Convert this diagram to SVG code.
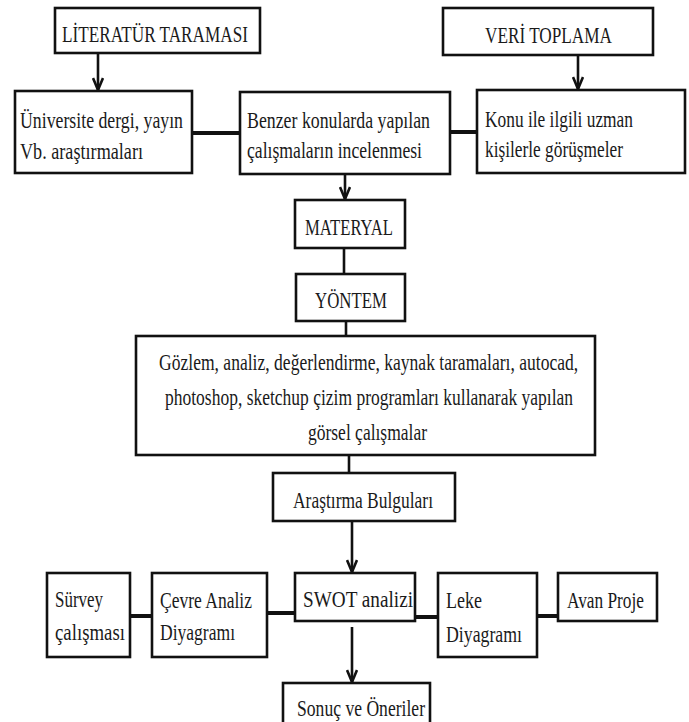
<svg xmlns="http://www.w3.org/2000/svg" width="689" height="722" viewBox="0 0 689 722">
<style>
.box{fill:#fff;stroke:#111;stroke-width:2.6}
.t{font-family:"Liberation Serif","Times New Roman","DejaVu Serif",serif;font-size:23px;fill:#1a1a1a}
.c{stroke:#111;stroke-width:2.6;fill:none}
.h{stroke:#111;stroke-width:4;fill:none}
.a{stroke:#111;stroke-width:2.6;fill:none;marker-end:url(#ah)}
</style>
<defs>
<marker id="ah" viewBox="0 0 14 12" refX="13" refY="6" markerWidth="14" markerHeight="12" markerUnits="userSpaceOnUse" orient="auto">
<path d="M1,1 L13,6 L1,11" fill="none" stroke="#111" stroke-width="2.6"/>
</marker>
</defs>
<rect width="689" height="722" fill="#fff"/>
<g id="connectors">
<line class="a" x1="98" y1="53" x2="98" y2="90"/>
<line class="h" x1="192" y1="133" x2="240" y2="133"/>
<line class="h" x1="450" y1="132" x2="477" y2="132"/>
<line class="a" x1="578" y1="55" x2="578" y2="89"/>
<line class="a" x1="345" y1="174" x2="345" y2="199"/>
<line class="c" x1="344" y1="248" x2="344" y2="274"/>
<line class="c" x1="346" y1="321" x2="346" y2="336"/>
<line class="c" x1="349" y1="455" x2="349" y2="473"/>
<line class="a" x1="352" y1="521" x2="352" y2="572"/>
<line class="a" x1="352" y1="627" x2="352" y2="682"/>
<line class="h" x1="130" y1="616" x2="152" y2="616"/>
<line class="h" x1="267" y1="613" x2="295" y2="613"/>
<line class="h" x1="415" y1="617" x2="438" y2="617"/>
<line class="h" x1="537" y1="616" x2="558" y2="616"/>
</g>
<g id="literatur">
<rect class="box" x="55" y="8" width="205" height="45"/>
<text class="t" x="62" y="42" textLength="186" lengthAdjust="spacingAndGlyphs">LİTERATÜR TARAMASI</text>
</g>
<g id="veri">
<rect class="box" x="443" y="8" width="210" height="47"/>
<text class="t" x="485" y="43" textLength="127" lengthAdjust="spacingAndGlyphs">VERİ TOPLAMA</text>
</g>
<g id="universite">
<rect class="box" x="15" y="91" width="177" height="82"/>
<text class="t" x="20" y="128" textLength="163" lengthAdjust="spacingAndGlyphs">Üniversite dergi, yayın</text>
<text class="t" x="20" y="159" textLength="123" lengthAdjust="spacingAndGlyphs">Vb. araştırmaları</text>
</g>
<g id="benzer">
<rect class="box" x="240" y="92" width="210" height="82"/>
<text class="t" x="247" y="128" textLength="183" lengthAdjust="spacingAndGlyphs">Benzer konularda yapılan</text>
<text class="t" x="247" y="158" textLength="175" lengthAdjust="spacingAndGlyphs">çalışmaların incelenmesi</text>
</g>
<g id="konu">
<rect class="box" x="477" y="90" width="208" height="83"/>
<text class="t" x="485" y="127" textLength="148" lengthAdjust="spacingAndGlyphs">Konu ile ilgili uzman</text>
<text class="t" x="485" y="157" textLength="138" lengthAdjust="spacingAndGlyphs">kişilerle görüşmeler</text>
</g>
<g id="materyal">
<rect class="box" x="295" y="200" width="110" height="48"/>
<text class="t" x="305" y="235" textLength="88" lengthAdjust="spacingAndGlyphs">MATERYAL</text>
</g>
<g id="yontem">
<rect class="box" x="296" y="274" width="109" height="47"/>
<text class="t" x="315" y="308" textLength="72" lengthAdjust="spacingAndGlyphs">YÖNTEM</text>
</g>
<g id="gozlem">
<rect class="box" x="136" y="336" width="459" height="119"/>
<text class="t" transform="translate(159,370) scale(0.75,1)" textLength="559" lengthAdjust="spacingAndGlyphs">Gözlem, analiz, değerlendirme, kaynak taramaları, autocad,</text>
<text class="t" transform="translate(165,405) scale(0.75,1)" textLength="544" lengthAdjust="spacingAndGlyphs">photoshop, sketchup çizim programları kullanarak yapılan</text>
<text class="t" x="308" y="440" textLength="119" lengthAdjust="spacingAndGlyphs">görsel çalışmalar</text>
</g>
<g id="bulgular">
<rect class="box" x="273" y="473" width="182" height="48"/>
<text class="t" x="293" y="508" textLength="140" lengthAdjust="spacingAndGlyphs">Araştırma Bulguları</text>
</g>
<g id="swot">
<rect class="box" x="295" y="573" width="120" height="48"/>
<text class="t" x="303" y="607" textLength="110" lengthAdjust="spacingAndGlyphs">SWOT analizi</text>
</g>
<g id="sonuc">
<rect class="box" x="283" y="683" width="147" height="42"/>
<text class="t" x="297" y="716" textLength="128" lengthAdjust="spacingAndGlyphs">Sonuç ve Öneriler</text>
</g>
<g id="survey">
<rect class="box" x="47" y="573" width="83" height="84"/>
<text class="t" x="55" y="607" textLength="48" lengthAdjust="spacingAndGlyphs">Sürvey</text>
<text class="t" x="55" y="640" textLength="70" lengthAdjust="spacingAndGlyphs">çalışması</text>
</g>
<g id="cevre">
<rect class="box" x="152" y="573" width="115" height="84"/>
<text class="t" x="160" y="608" textLength="92" lengthAdjust="spacingAndGlyphs">Çevre Analiz</text>
<text class="t" x="160" y="640" textLength="75" lengthAdjust="spacingAndGlyphs">Diyagramı</text>
</g>
<g id="leke">
<rect class="box" x="438" y="573" width="99" height="84"/>
<text class="t" x="446" y="608" textLength="36" lengthAdjust="spacingAndGlyphs">Leke</text>
<text class="t" x="446" y="642" textLength="76" lengthAdjust="spacingAndGlyphs">Diyagramı</text>
</g>
<g id="avan">
<rect class="box" x="558" y="573" width="99" height="48"/>
<text class="t" x="567" y="608" textLength="77" lengthAdjust="spacingAndGlyphs">Avan Proje</text>
</g>
</svg>
